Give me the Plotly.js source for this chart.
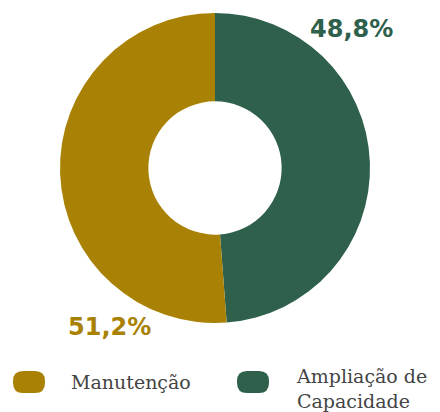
<!DOCTYPE html>
<html>
<head>
<meta charset="utf-8">
<script src="https://cdn.plot.ly/plotly-3.0.1.min.js"></script>
<style>
  html, body { margin: 0; padding: 0; background: #ffffff; }
  #chart { width: 440px; height: 412px; }
</style>
</head>
<body>
<div id="chart"></div>
<script>
// Investment split: capacity expansion vs. maintenance (share, %)
const categories = ["Ampliação de Capacidade", "Manutenção"];
const legendLabels = ["Ampliação de<br>Capacidade", "Manutenção"];
const shares = [48.8, 51.2];
const colors = ["#2e604c", "#a98205"];

// Formats a share with a decimal comma, e.g. 48.8 -> "48,8%"
const fmt = v => v.toFixed(1).replace(".", ",") + "%";

const donut = {
  type: "pie",
  labels: categories,
  values: shares,
  sort: false,
  direction: "clockwise",
  rotation: 0,
  hole: 0.43,
  textinfo: "none",
  hoverinfo: "label+percent",
  marker: { colors: colors, line: { width: 0 } },
  domain: { x: [60 / 440, 370 / 440], y: [1 - 323 / 412, 1 - 13 / 412] },
  showlegend: false
};

// Value labels placed beside the ring
const valueLabels = [
  { x: 351 / 440, y: 1 - 29 / 412, i: 0 },
  { x: 109 / 440, y: 1 - 327 / 412, i: 1 }
].map(p => ({
  xref: "paper", yref: "paper", x: p.x, y: p.y,
  xanchor: "center", yanchor: "middle", showarrow: false,
  text: "<b>" + fmt(shares[p.i]) + "</b>",
  font: { family: "DejaVu Sans", size: 24, color: colors[p.i] }
}));

// Custom legend: rounded swatches with serif labels
const legendItems = [
  { i: 1, sx0: 13, sx1: 45, tx: 69, ty: 382 },
  { i: 0, sx0: 237, sx1: 269, tx: 294, ty: 388 }
];
const sy0 = 371, sy1 = 393;

function roundedRect(x0, x1, y0, y1, r) {
  const X = v => v / 440, Y = v => 1 - v / 412;
  // path in pixel-like coordinates converted to paper fractions
  return `M ${X(x0 + r)} ${Y(y0)} L ${X(x1 - r)} ${Y(y0)} ` +
    `Q ${X(x1)} ${Y(y0)} ${X(x1)} ${Y(y0 + r)} L ${X(x1)} ${Y(y1 - r)} ` +
    `Q ${X(x1)} ${Y(y1)} ${X(x1 - r)} ${Y(y1)} L ${X(x0 + r)} ${Y(y1)} ` +
    `Q ${X(x0)} ${Y(y1)} ${X(x0)} ${Y(y1 - r)} L ${X(x0)} ${Y(y0 + r)} ` +
    `Q ${X(x0)} ${Y(y0)} ${X(x0 + r)} ${Y(y0)} Z`;
}

const shapes = legendItems.map(it => ({
  type: "path", xref: "paper", yref: "paper",
  path: roundedRect(it.sx0, it.sx1, sy0, sy1, 10),
  fillcolor: colors[it.i], line: { width: 0 }
}));

const legendText = legendItems.map(it => ({
  xref: "paper", yref: "paper", x: it.tx / 440, y: 1 - it.ty / 412,
  xanchor: "left", yanchor: "middle", align: "left", showarrow: false,
  text: legendLabels[it.i],
  font: { family: "DejaVu Serif", size: 19, color: "#444444" }
}));

const layout = {
  width: 440, height: 412,
  margin: { l: 0, r: 0, t: 0, b: 0 },
  paper_bgcolor: "#ffffff",
  showlegend: false,
  shapes: shapes,
  annotations: valueLabels.concat(legendText)
};

Plotly.newPlot("chart", [donut], layout, { displayModeBar: false, staticPlot: true });
</script>
</body>
</html>
